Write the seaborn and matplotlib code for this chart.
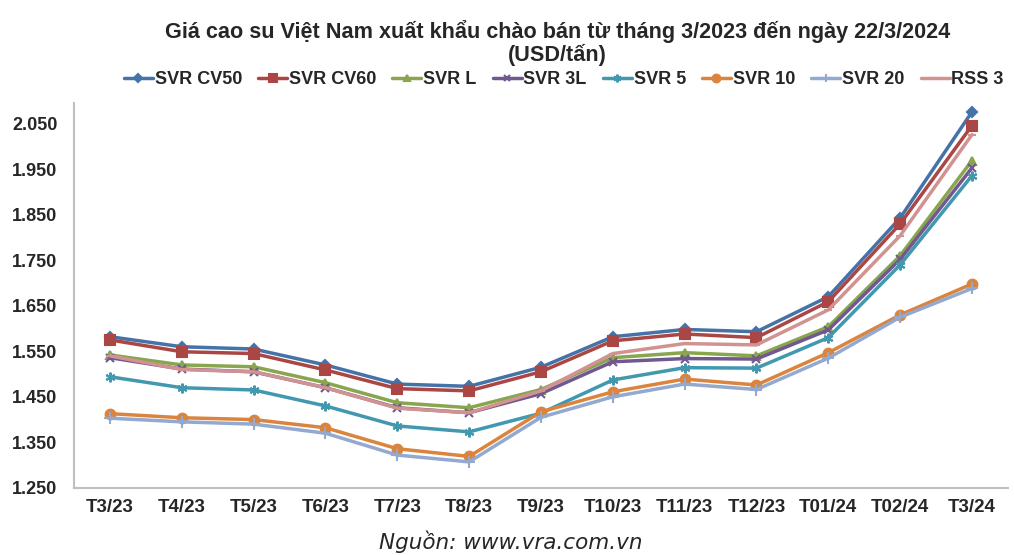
import pandas as pd
import matplotlib.pyplot as plt
import seaborn as sns

# --- data (USD/tấn) ---
months = ["T3/23", "T4/23", "T5/23", "T6/23", "T7/23", "T8/23", "T9/23",
          "T10/23", "T11/23", "T12/23", "T01/24", "T02/24", "T3/24"]

svr_cv50 = [1582, 1560, 1555, 1520, 1478, 1473, 1515, 1582, 1598, 1593, 1670, 1843, 2076]
svr_cv60 = [1575, 1549, 1545, 1509, 1468, 1463, 1505, 1573, 1588, 1580, 1659, 1830, 2046]
svr_l    = [1542, 1520, 1516, 1481, 1437, 1426, 1466, 1536, 1547, 1540, 1604, 1760, 1969]
svr_3l   = [1536, 1511, 1505, 1470, 1426, 1415, 1457, 1527, 1534, 1533, 1597, 1752, 1953]
svr_5    = [1494, 1470, 1465, 1430, 1386, 1373, 1414, 1487, 1514, 1513, 1580, 1740, 1936]
svr_10   = [1413, 1404, 1400, 1382, 1336, 1319, 1417, 1461, 1489, 1476, 1547, 1630, 1698]
svr_20   = [1403, 1395, 1390, 1370, 1322, 1307, 1405, 1450, 1478, 1466, 1535, 1625, 1688]
rss_3    = [1540, 1510, 1505, 1470, 1425, 1415, 1463, 1545, 1567, 1564, 1641, 1804, 2026]

names = ["SVR CV50", "SVR CV60", "SVR L", "SVR 3L", "SVR 5", "SVR 10", "SVR 20", "RSS 3"]
series = [svr_cv50, svr_cv60, svr_l, svr_3l, svr_5, svr_10, svr_20, rss_3]

# --- style ---
colors  = ["#4572A7", "#AA4643", "#89A54E", "#71588F", "#4198AF", "#DB843D", "#93A9CF", "#D19392"]
markers = ["D", "s", "^", "x", (6, 2, 0), "o", "+", "_"]
msizes  = [5, 7, 6, 6, 7, 7, 8, 6]

sns.set_theme(style="white")
plt.rcParams['font.family'] = ['Liberation Sans', 'DejaVu Sans']

fig = plt.figure(figsize=(10.14, 5.55), dpi=100)
ax = fig.add_axes([0.073, 0.121, 0.921, 0.693])

for name, vals, c, m, ms in zip(names, series, colors, markers, msizes):
    df = pd.DataFrame({"month": months, "price": vals})
    sns.lineplot(data=df, x="month", y="price", ax=ax, color=c, marker=m,
                 markersize=ms, markeredgecolor=c, markeredgewidth=1.5,
                 linewidth=2.5, label=name, sort=False)

ax.set_xlim(-0.5, len(months) - 0.5)
ax.set_ylim(1250, 2095)
ax.set_yticks(range(1250, 2051, 100))
ax.set_yticklabels([f"{v:,}".replace(",", ".") for v in range(1250, 2051, 100)])
ax.set_xlabel("")
ax.set_ylabel("")
ax.tick_params(axis="y", length=0, labelsize=13, pad=12)
ax.tick_params(axis="x", length=0, labelsize=13.5, pad=8)
for lab in ax.get_xticklabels() + ax.get_yticklabels():
    lab.set_fontweight("bold")

for s in ["top", "right"]:
    ax.spines[s].set_visible(False)
for s in ["left", "bottom"]:
    ax.spines[s].set_color("#BFBFBF")
    ax.spines[s].set_linewidth(1.5)

ax.legend(loc="center", bbox_to_anchor=(0.556, 0.857), bbox_transform=fig.transFigure,
          ncol=8, frameon=False, prop={"weight": "bold", "size": 13},
          handlelength=1.6, handletextpad=0.1, columnspacing=0.9, markerscale=0.8)

fig.text(0.550, 0.922, "Giá cao su Việt Nam xuất khẩu chào bán từ tháng 3/2023 đến ngày 22/3/2024\n(USD/tấn)",
         ha="center", va="center", fontsize=15.6, fontweight="bold", linespacing=1.05)
fig.text(0.504, 0.024, "Nguồn: www.vra.com.vn", ha="center", va="center",
         fontsize=15.5, style="italic", family=["DejaVu Sans"])

fig.savefig("out.png", dpi=100)
